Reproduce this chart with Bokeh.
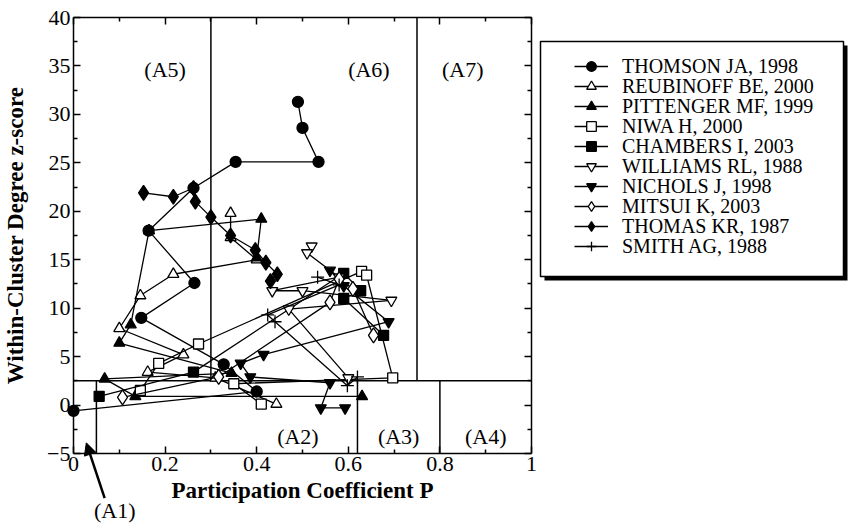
from bokeh.plotting import figure
from bokeh.models import (Range1d, LinearAxis, Legend, LegendItem, Arrow, NormalHead,
                          Label, BoxAnnotation, FixedTicker)
from bokeh.embed import file_html
from bokeh.resources import INLINE
from bokeh.core.properties import value

FONT = "Liberation Serif"

# ---------------- data ----------------
series_names = ["THOMSON JA, 1998", "REUBINOFF BE, 2000", "PITTENGER MF, 1999", "NIWA H, 2000",
                "CHAMBERS I, 2003", "WILLIAMS RL, 1988", "NICHOLS J, 1998", "MITSUI K, 2003",
                "THOMAS KR, 1987", "SMITH AG, 1988"]

thomson_x = [0.49, 0.50, 0.535, 0.354, 0.262, 0.164, 0.264, 0.148, 0.328, 0.40, 0.0]
thomson_y = [31.3, 28.6, 25.1, 25.1, 22.4, 18.0, 12.6, 9.0, 4.2, 1.4, -0.6]

reubinoff_x = [0.343, 0.343, 0.40, 0.218, 0.146, 0.10, 0.24, 0.162, 0.31, 0.443]
reubinoff_y = [19.8, 17.3, 15.0, 13.5, 11.3, 7.9, 5.2, 3.4, 2.8, 0.1]

pittenger_x = [0.40, 0.41, 0.165, 0.125, 0.10, 0.345, 0.068, 0.135, 0.63]
pittenger_y = [15.2, 19.2, 18.0, 8.3, 6.4, 3.3, 2.7, 0.9, 0.9]

niwa_x = [0.146, 0.186, 0.273, 0.629, 0.64, 0.697, 0.35, 0.41]
niwa_y = [1.5, 4.3, 6.3, 13.8, 13.4, 2.8, 2.2, 0.1]

chambers_x = [0.056, 0.262, 0.59, 0.627, 0.59, 0.677]
chambers_y = [0.9, 3.4, 13.6, 11.8, 11.0, 7.2]

williams_x = [0.52, 0.51, 0.58, 0.434, 0.50, 0.694, 0.47, 0.60]
williams_y = [16.4, 15.7, 13.2, 11.8, 11.8, 10.8, 9.9, 2.8]

nichols_x = [0.56, 0.59, 0.688, 0.415, 0.365, 0.386, 0.56, 0.54, 0.593]
nichols_y = [13.9, 12.3, 8.6, 5.2, 4.3, 2.9, 2.3, -0.3, -0.3]

mitsui_x = [0.107, 0.317, 0.56, 0.58, 0.61, 0.655]
mitsui_y = [0.8, 2.9, 10.6, 13.0, 12.0, 7.2]

thomas_x = [0.153, 0.218, 0.262, 0.266, 0.30, 0.343, 0.397, 0.42, 0.445, 0.43]
thomas_y = [21.9, 21.5, 22.4, 21.0, 19.4, 17.5, 16.0, 14.7, 13.5, 12.8]

smith_x = [0.533, 0.58, 0.424, 0.44, 0.598, 0.62]
smith_y = [13.2, 12.4, 9.3, 8.6, 2.0, 2.9]

x_ticks = [0, 0.2, 0.4, 0.6, 0.8, 1]
x_tick_labels = ["0", "0.2", "0.4", "0.6", "0.8", "1"]
x_minor = [0.1, 0.3, 0.5, 0.7, 0.9]
y_ticks = [-5, 0, 5, 10, 15, 20, 25, 30, 35, 40]
y_minor = [-2.5, 2.5, 7.5, 12.5, 17.5, 22.5, 27.5, 32.5, 37.5]
x_axis_bounds = (0, 1)
y_axis_bounds = (-5, 40)

# region boundaries
bound_x0 = [0.3, 0.75, 0.0, 0.05, 0.62, 0.8]
bound_y0 = [2.5, 2.5, 2.5, -5, -5, -5]
bound_x1 = [0.3, 0.75, 1.0, 0.05, 0.62, 0.8]
bound_y1 = [40, 40, 2.5, 2.5, 2.5, 2.5]

region_labels = ["(A5)", "(A6)", "(A7)", "(A2)", "(A3)", "(A4)"]
region_x = [0.20, 0.645, 0.85, 0.49, 0.71, 0.90]
region_y = [34.6, 34.6, 34.6, -3.2, -3.2, -3.2]

a1_label = "(A1)"
a1_arrow_start = (0.068, -9.6)
a1_arrow_end = (0.028, -3.9)
a1_text_pos = (0.09, -10.9)

series = [
    (thomson_x, thomson_y, "circle", "black", 11),
    (reubinoff_x, reubinoff_y, "triangle", "white", 11),
    (pittenger_x, pittenger_y, "triangle", "black", 11),
    (niwa_x, niwa_y, "square", "white", 10),
    (chambers_x, chambers_y, "square", "black", 10),
    (williams_x, williams_y, "inverted_triangle", "white", 11),
    (nichols_x, nichols_y, "inverted_triangle", "black", 11),
    (mitsui_x, mitsui_y, "diamond", "white", 15),
    (thomas_x, thomas_y, "diamond", "black", 15),
    (smith_x, smith_y, "cross", "black", 13),
]

# ---------------- layout (pixels) ----------------
W, H = 848, 525
AX_LEFT_PX, AX_RIGHT_PX = 73.0, 531.0     # x = 0 and x = 1
AX_TOP_PX, AX_BOTTOM_PX = 17.0, 453.0     # y = 40 and y = -5
ppx = (AX_RIGHT_PX - AX_LEFT_PX) / (x_axis_bounds[1] - x_axis_bounds[0])
ppy = (AX_BOTTOM_PX - AX_TOP_PX) / (y_axis_bounds[1] - y_axis_bounds[0])
x_start = x_axis_bounds[0] - AX_LEFT_PX / ppx
x_end = x_start + W / ppx
y_end = y_axis_bounds[1] + AX_TOP_PX / ppy
y_start = y_end - H / ppy


def px2x(px):
    return x_start + px / ppx


def px2y(py):
    return y_end - py / ppy


# the frame covers the whole canvas; axes are drawn at fixed data locations
p = figure(frame_width=W, frame_height=H, output_backend="svg", toolbar_location=None,
           x_range=Range1d(x_start, x_end), y_range=Range1d(y_start, y_end),
           min_border=0)
p.xgrid.visible = False
p.ygrid.visible = False
p.outline_line_color = None
p.background_fill_color = "white"
p.border_fill_color = "white"

xt = FixedTicker(ticks=x_ticks, minor_ticks=x_minor)
yt = FixedTicker(ticks=y_ticks, minor_ticks=y_minor)

bottom_ax = p.below[0]
left_ax = p.left[0]
bottom_ax.ticker = xt
bottom_ax.major_label_overrides = dict(zip(x_ticks, x_tick_labels))
bottom_ax.fixed_location = y_axis_bounds[0]
bottom_ax.bounds = x_axis_bounds
left_ax.ticker = yt
left_ax.fixed_location = x_axis_bounds[0]
left_ax.bounds = y_axis_bounds

top_ax = LinearAxis(ticker=xt, fixed_location=y_axis_bounds[1], bounds=x_axis_bounds,
                    major_label_overrides={t: "" for t in x_ticks})
right_ax = LinearAxis(ticker=yt, fixed_location=x_axis_bounds[1], bounds=y_axis_bounds,
                      major_label_overrides={t: "" for t in y_ticks})
p.add_layout(top_ax, "above")
p.add_layout(right_ax, "right")

for ax in [bottom_ax, left_ax, top_ax, right_ax]:
    ax.major_tick_in = 7
    ax.major_tick_out = 0
    ax.minor_tick_in = 4
    ax.minor_tick_out = 0
    ax.major_tick_line_width = 1.5
    ax.minor_tick_line_width = 1.5
    ax.axis_line_color = "black"
    ax.axis_line_width = 1.5
    ax.major_label_text_font = FONT
    ax.major_label_text_color = "black"
    ax.major_label_text_font_size = "22px"

for ax in [bottom_ax, left_ax]:
    ax.axis_label_text_font = FONT
    ax.axis_label_text_font_style = "bold"
    ax.axis_label_text_font_size = "23px"
    ax.axis_label_text_color = "black"
    ax.major_label_standoff = 3

bottom_ax.axis_label = "Participation Coefficient P"
bottom_ax.axis_label_standoff = 4
left_ax.axis_label = "Within-Cluster Degree z-score"
left_ax.axis_label_standoff = 16

# region boundaries
p.segment(x0=bound_x0, y0=bound_y0, x1=bound_x1, y1=bound_y1, line_color="black", line_width=1.5)

# region labels
p.text(x=region_x, y=region_y, text=region_labels, text_font=value(FONT), text_font_size="22px",
       text_align="center", text_baseline="middle", text_color="black")

# data series
items = []
for (xs, ys, mk, fill, size), name in zip(series, series_names):
    lr = p.line(xs, ys, line_color="black", line_width=1.3)
    sr = p.scatter(xs, ys, marker=mk, size=size, fill_color=fill, line_color="black", line_width=1.3)
    items.append(LegendItem(label=name, renderers=[lr, sr]))

# legend box with drop shadow (pixel layout converted to data units)
BOX_L, BOX_T, BOX_R, BOX_B = 540, 41, 843, 276
SH = 4
p.add_layout(BoxAnnotation(left=px2x(BOX_L + SH), right=px2x(BOX_R + SH),
                           top=px2y(BOX_T + SH), bottom=px2y(BOX_B + SH),
                           fill_color="black", fill_alpha=1.0, line_color=None))
p.add_layout(BoxAnnotation(left=px2x(BOX_L), right=px2x(BOX_R),
                           top=px2y(BOX_T), bottom=px2y(BOX_B),
                           fill_color="white", fill_alpha=1.0,
                           line_color="black", line_width=1.5, line_alpha=1.0))

# one single-row legend per entry, so that the row pitch can be tighter than the font box
ROW_PITCH = 20
FIRST_ROW_CENTER = 66
ROW_BOX = 24
GLYPH_LEFT = 574
for i, item in enumerate(items):
    center = FIRST_ROW_CENTER + i * ROW_PITCH
    lg = Legend(items=[item], location=(GLYPH_LEFT, round(H - center - ROW_BOX / 2)),
                orientation="vertical",
                label_text_font=FONT, label_text_font_size="20px", label_text_color="black",
                glyph_width=34, glyph_height=ROW_BOX, label_height=ROW_BOX, spacing=0,
                label_standoff=14, padding=0, margin=0,
                border_line_color=None, background_fill_alpha=0.0)
    p.add_layout(lg, "center")

# A1 arrow & label
p.add_layout(Arrow(x_start=a1_arrow_start[0], y_start=a1_arrow_start[1],
                   x_end=a1_arrow_end[0], y_end=a1_arrow_end[1],
                   line_color="black", line_width=2.5,
                   end=NormalHead(size=12, fill_color="black", line_color="black")))
p.add_layout(Label(x=a1_text_pos[0], y=a1_text_pos[1], text=a1_label, text_font=FONT,
                   text_font_size="22px", text_align="center", text_baseline="middle",
                   text_color="black"))

open("out.html", "w").write(file_html(p, INLINE))
